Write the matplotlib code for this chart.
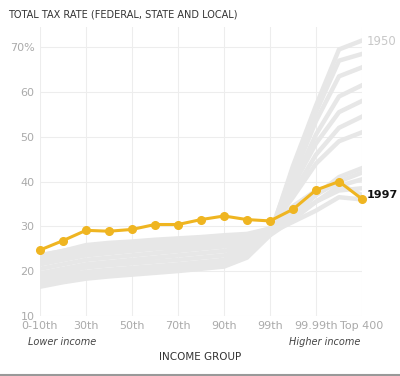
import matplotlib.pyplot as plt

# income groups (15 points); only every other one gets a tick label
groups = ["0-10th", "20th", "30th", "40th", "50th", "60th", "70th", "80th",
          "90th", "95th", "99th", "99.9th", "99.99th", "99.999th", "Top 400"]
tick_labels = ["0-10th", "30th", "50th", "70th", "90th", "99th", "99.99th", "Top 400"]

# highlighted year
rate_1997 = [24.7, 26.8, 29.1, 28.9, 29.3, 30.4, 30.4, 31.5, 32.3, 31.5,
             31.2, 33.8, 38.1, 40.0, 36.1]

# background years
rate_1950 = [16.5, 17.5, 18.3, 18.8, 19.2, 19.6, 20.0, 20.5, 21.0, 23.0, 28.0, 43.5, 57.0, 69.5, 71.5]
rate_1955 = [17.0, 18.0, 18.8, 19.3, 19.7, 20.1, 20.5, 21.0, 21.5, 23.5, 28.5, 42.5, 55.5, 67.0, 68.5]
rate_1960 = [17.5, 18.5, 19.3, 19.8, 20.2, 20.6, 21.0, 21.5, 22.0, 24.0, 28.5, 41.0, 53.5, 63.5, 65.5]
rate_1965 = [18.0, 19.0, 19.8, 20.3, 20.7, 21.1, 21.5, 22.0, 22.5, 24.5, 28.5, 39.5, 50.5, 59.0, 61.5]
rate_1970 = [18.8, 19.8, 20.8, 21.3, 21.7, 22.1, 22.5, 23.0, 23.5, 25.0, 29.0, 39.0, 48.5, 55.5, 58.0]
rate_1975 = [19.5, 20.5, 21.5, 22.0, 22.5, 23.0, 23.5, 24.0, 24.5, 25.5, 29.0, 37.5, 46.0, 52.0, 54.5]
rate_1980 = [20.5, 21.5, 22.5, 23.0, 23.5, 24.0, 24.5, 25.0, 25.5, 26.0, 29.5, 36.5, 44.0, 49.0, 51.0]
rate_1985 = [21.5, 22.5, 23.5, 24.0, 24.5, 25.0, 25.3, 25.6, 26.0, 26.5, 28.5, 32.5, 37.0, 41.0, 43.0]
rate_1990 = [22.5, 23.5, 24.5, 25.0, 25.3, 25.6, 26.0, 26.3, 26.6, 27.0, 28.5, 32.0, 35.5, 38.0, 38.5]
rate_2000 = [23.5, 24.5, 25.5, 26.0, 26.3, 26.6, 27.0, 27.3, 27.6, 28.0, 29.5, 34.5, 38.0, 39.5, 37.0]
rate_2005 = [23.0, 24.0, 25.0, 25.5, 25.8, 26.2, 26.5, 26.8, 27.0, 27.3, 28.5, 31.0, 33.5, 36.5, 36.0]
rate_2010 = [22.0, 23.0, 24.0, 24.5, 24.8, 25.2, 25.5, 25.8, 26.2, 26.8, 28.0, 31.5, 35.5, 39.0, 40.5]
rate_2015 = [23.5, 24.5, 25.8, 26.3, 26.6, 27.0, 27.3, 27.6, 28.0, 28.3, 29.5, 33.0, 37.0, 40.0, 42.0]

background = [rate_1950, rate_1955, rate_1960, rate_1965, rate_1970, rate_1975, rate_1980,
              rate_1985, rate_1990, rate_2000, rate_2005, rate_2010, rate_2015]

YELLOW = "#efb521"
x = list(range(len(groups)))

fig = plt.figure(figsize=(4.0, 3.76), dpi=100)
ax = fig.add_axes([0.1, 0.16, 0.805, 0.768])

for vals in background:
    ax.plot(x, vals, color="#e7e7e7", lw=3.2, solid_joinstyle="round", zorder=2)

ax.plot(x, rate_1997, color=YELLOW, lw=2.2, marker="o", ms=5.5, zorder=5, clip_on=False)

ax.set_xlim(0, len(groups) - 1)
ax.set_ylim(10, 74.5)
ax.set_yticks([10, 20, 30, 40, 50, 60, 70])
ax.set_yticklabels(["10", "20", "30", "40", "50", "60", "70%"])
ax.set_xticks(x[::2])
ax.set_xticklabels(tick_labels)
ax.tick_params(length=0, labelsize=8, labelcolor="#aaaaaa", pad=4)
ax.grid(True, color="#ededed", lw=0.8, zorder=0)
ax.set_axisbelow(True)
for s in ax.spines.values():
    s.set_visible(False)

ax.text(len(groups) - 1 + 0.22, rate_1950[-1] - 0.3, "1950", color="#c8c8c8",
        fontsize=8.5, va="center", ha="left", clip_on=False)
ax.text(len(groups) - 1 + 0.22, rate_1997[-1] + 1.0, "1997", color="#111111",
        fontsize=8, fontweight="bold", va="center", ha="left", clip_on=False)

fig.text(0.02, 0.962, "TOTAL TAX RATE (FEDERAL, STATE AND LOCAL)", fontsize=7,
         color="#333333", va="center", ha="left")
fig.text(0.07, 0.09, "Lower income", fontsize=7, style="italic", color="#444444",
         va="center", ha="left")
fig.text(0.9, 0.09, "Higher income", fontsize=7, style="italic", color="#444444",
         va="center", ha="right")
fig.text(0.5, 0.05, "INCOME GROUP", fontsize=7.5, color="#333333", va="center", ha="center")
fig.add_artist(plt.Line2D([0, 1], [0.003, 0.003], color="#999999", lw=1.5))

fig.savefig("out.png", dpi=100)
